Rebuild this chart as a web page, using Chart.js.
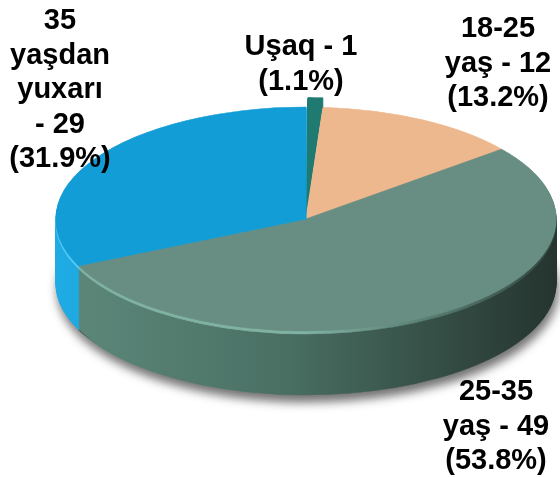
<!DOCTYPE html>
<html>
<head>
<meta charset="utf-8">
<script src="https://cdn.jsdelivr.net/npm/chart.js@4"></script>
<style>
  html, body { margin: 0; padding: 0; background: #fff; }
  #wrap { width: 560px; height: 477px; }
</style>
</head>
<body>
<div id="wrap"><canvas id="pieChart"></canvas></div>
<script>
// data
var labels = ['Uşaq', '18-25 yaş', '25-35 yaş', '35 yaşdan yuxarı'];
var values = [1, 12, 49, 29];

// colours of the top face, the side (left -> right) and the rim highlight
var topColors = ['#1f7a72', '#eeb88e', '#688e84', '#139dd6'];
var sideColors = [
  ['#1a6e67', '#1a6e67', '#0f403b'],
  ['#d59c73', '#c08a62', '#9a6744'],
  ['#5d897b', '#4a7064', '#25342f'],
  ['#1fabe4', '#1896cc', '#0b6a94'],
];
var edgeColors = [
  ['#2a8a82', '#124a45'],
  ['#f0c09a', '#a06c48'],
  ['#80b2a2', '#30463f'],
  ['#52c6f2', '#0d74a0'],
];

// where the flattened pie sits on the page
var CX = 306, CY = 219, RX = 250, RY = 112, DEPTH = 64;

// label blocks: centre x, first line y, wrap width
var labelPos = [
  { x: 301, y: 47, w: 140 },
  { x: 498, y: 29, w: 110 },
  { x: 496, y: 392, w: 110 },
  { x: 60, y: 21, w: 110 },
];

var total = values.reduce(function (a, b) { return a + b; }, 0);

function wrap(ctx, words, maxW) {
  var lines = [];
  var cur = '';
  words.forEach(function (w) {
    var t = cur ? cur + ' ' + w : w;
    if (cur && ctx.measureText(t).width > maxW) {
      lines.push(cur);
      cur = w;
    } else {
      cur = t;
    }
  });
  if (cur) lines.push(cur);
  return lines;
}

// draws the pie squashed into an ellipse with a side wall
var pie3d = {
  id: 'pie3d',
  beforeDatasetsDraw: function (chart) {
    var ctx = chart.ctx;
    var arcs = chart.getDatasetMeta(0).data;
    var ox = arcs[0].x, oy = arcs[0].y;
    var r = arcs[2].outerRadius;
    var sx = RX / r, sy = RY / r;

    function place() {
      ctx.translate(CX, CY);
      ctx.scale(sx, sy);
      ctx.translate(-ox, -oy);
    }

    var fills = sideColors.map(function (c) {
      var g = ctx.createLinearGradient(ox - r, 0, ox + r, 0);
      g.addColorStop(0, c[0]);
      g.addColorStop(0.45, c[1]);
      g.addColorStop(1, c[2]);
      return g;
    });
    var edges = edgeColors.map(function (c) {
      var g = ctx.createLinearGradient(ox - r, 0, ox + r, 0);
      g.addColorStop(0, c[0]);
      g.addColorStop(0.5, c[0]);
      g.addColorStop(1, c[1]);
      return g;
    });

    // side wall, from the bottom layer up
    for (var d = DEPTH; d >= 1; d--) {
      ctx.save();
      ctx.translate(0, d);
      place();
      if (d === DEPTH) {
        ctx.shadowColor = 'rgba(0,0,0,0.55)';
        ctx.shadowBlur = 10;
        ctx.shadowOffsetX = 2;
        ctx.shadowOffsetY = 7;
      }
      arcs.forEach(function (arc, i) {
        var f = d <= 3 ? edges[i] : fills[i];
        var side = Object.create(arc);
        side.options = Object.assign({}, arc.options, {
          backgroundColor: f,
          borderColor: f,
        });
        side.draw(ctx);
      });
      ctx.restore();
    }

    // top face
    ctx.save();
    place();
    arcs.forEach(function (arc) { arc.draw(ctx); });
    ctx.restore();
    return false;
  },
  afterDraw: function (chart) {
    var ctx = chart.ctx;
    ctx.save();
    ctx.font = 'bold 29px "Liberation Sans", Arial, sans-serif';
    ctx.fillStyle = '#000';
    ctx.textAlign = 'center';
    ctx.textBaseline = 'middle';
    labels.forEach(function (lab, i) {
      var pct = (values[i] / total * 100).toFixed(1) + '%';
      var words = lab.split(' ').concat(['- ' + values[i], '(' + pct + ')']);
      var p = labelPos[i];
      wrap(ctx, words, p.w).forEach(function (line, k) {
        ctx.fillText(line, p.x, p.y + k * 34.5);
      });
    });
    ctx.restore();
  },
};

var ctx = document.getElementById('pieChart').getContext('2d');
var myChart = new Chart(ctx, {
  type: 'pie',
  data: {
    labels: labels,
    datasets: [
      {
        data: values,
        backgroundColor: topColors,
        borderColor: topColors,
        borderWidth: 1,
        offset: [38, 0, 0, 0],
      },
    ],
  },
  options: {
    responsive: true,
    maintainAspectRatio: false,
    animation: false,
    plugins: {
      legend: { display: false },
      tooltip: { enabled: false },
    },
  },
  plugins: [pie3d],
});
</script>
</body>
</html>
